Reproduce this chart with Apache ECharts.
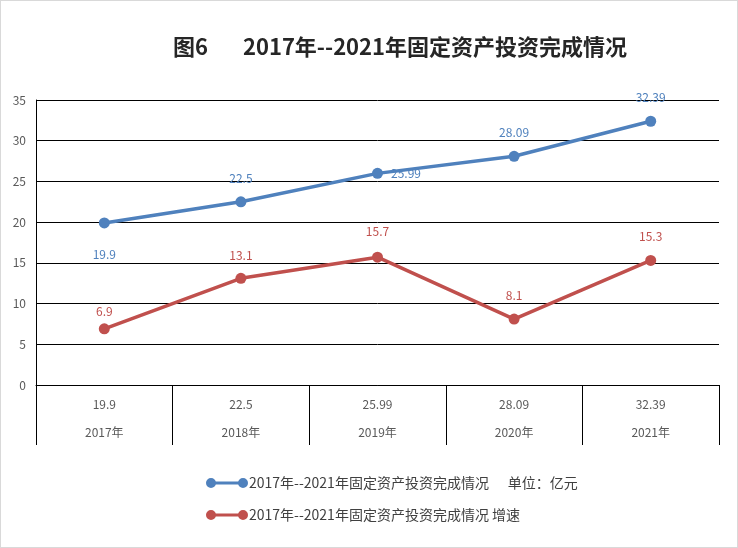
<!DOCTYPE html>
<html>
<head>
<meta charset="utf-8">
<script src="https://cdn.jsdelivr.net/npm/echarts@6/dist/echarts.min.js"></script>
<style>
	html, body { margin: 0; padding: 0; background: #fff; }
	#main { width: 736px; height: 546px; border: 1px solid #d9d9d9; }
</style>
</head>
<body>
<div id="main"></div>
<script>
// 数据
var years = ['2017年', '2018年', '2019年', '2020年', '2021年'];
var investText = ['19.9', '22.5', '25.99', '28.09', '32.39'];
var invest = [19.9, 22.5, 25.99, 28.09, 32.39];
var growth = [6.9, 13.1, 15.7, 8.1, 15.3];
var name1 = '2017年--2021年固定资产投资完成情况      单位：亿元';
var name2 = '2017年--2021年固定资产投资完成情况 增速';

var fontFamily = '"Noto Sans CJK SC", "Liberation Sans", sans-serif';
// 图例图标：两端圆点+中间线
var legendIcon = 'path://M0,5 A5,5 0 1,1 10,5 A5,5 0 1,1 0,5 Z M5,3.5 L37,3.5 L37,6.5 L5,6.5 Z M32,5 A5,5 0 1,1 42,5 A5,5 0 1,1 32,5 Z';

// 蓝线标签位置
var bluePos = ['bottom', 'top', 'right', 'top', 'top'];
var blueDist = [20, 12, 8, 12, 12];
var redDist = [6, 11, 14, 12, 12];

var myChart = echarts.init(document.getElementById('main'));

var option = {
	backgroundColor: '#fff',
	textStyle: { fontFamily: fontFamily },
	title: {
		text: '图6       2017年--2021年固定资产投资完成情况',
		left: 167,
		top: 30,
		textStyle: {
			fontSize: 22,
			fontWeight: 'bold',
			color: '#262626',
			fontFamily: fontFamily
		}
	},
	legend: {
		orient: 'vertical',
		left: 200,
		top: 470,
		itemWidth: 42,
		itemHeight: 12,
		itemGap: 18,
		data: [
			{ name: name1, icon: legendIcon },
			{ name: name2, icon: legendIcon }
		],
		textStyle: { fontSize: 14, color: '#404040', padding: [0, 0, 0, -4] }
	},
	grid: {
		left: 35,
		right: 18,
		top: 99,
		bottom: 162
	},
	xAxis: {
		type: 'category',
		data: years,
		boundaryGap: true,
		axisLine: { show: true, lineStyle: { color: '#000', width: 1 } },
		axisTick: { show: true, length: 60, lineStyle: { color: '#000', width: 1 } },
		axisLabel: {
			margin: 5,
			interval: 0,
			lineHeight: 28,
			fontSize: 12,
			color: '#595959',
			formatter: function (v, i) {
				return investText[i] + '\n' + v;
			}
		}
	},
	yAxis: {
		type: 'value',
		min: 0,
		max: 35,
		interval: 5,
		axisLine: { show: true, lineStyle: { color: '#000', width: 1 } },
		axisTick: { show: false },
		axisLabel: { margin: 10, fontSize: 12, color: '#595959' },
		splitLine: { lineStyle: { color: '#000', width: 1 } }
	},
	series: [{
		name: name1,
		type: 'line',
		data: invest.map(function (v, i) {
			return {
				value: v,
				label: { position: bluePos[i], distance: blueDist[i] }
			};
		}),
		symbol: 'circle',
		symbolSize: 11,
		lineStyle: { color: '#4F81BD', width: 3.5 },
		itemStyle: { color: '#4F81BD' },
		label: { show: true, fontSize: 12, color: '#4F81BD' }
	}, {
		name: name2,
		type: 'line',
		data: growth.map(function (v, i) {
			return {
				value: v,
				label: { position: 'top', distance: redDist[i] }
			};
		}),
		symbol: 'circle',
		symbolSize: 11,
		lineStyle: { color: '#C0504D', width: 3.5 },
		itemStyle: { color: '#C0504D' },
		label: { show: true, fontSize: 12, color: '#C0504D' }
	}]
};

myChart.setOption(option);
</script>
</body>
</html>
